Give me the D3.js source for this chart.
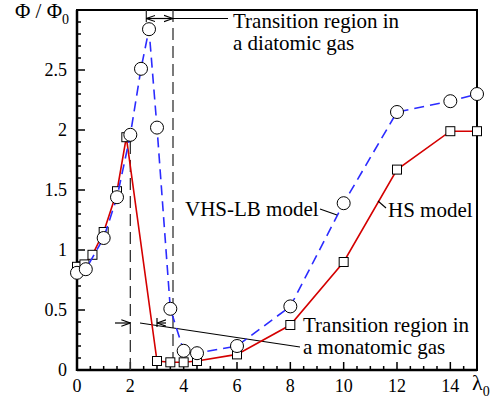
<!DOCTYPE html>
<html>
<head>
<meta charset="utf-8">
<script src="https://cdn.jsdelivr.net/npm/d3@7"></script>
</head>
<body style="margin:0">
<svg id="fig" width="494" height="402"></svg>
<script>
// HS model (squares, red solid)
var hsX = [0, 0.28, 0.58, 1, 1.5, 1.85, 3, 3.5, 4, 4.5, 6, 8, 10, 12, 14, 15];
var hsY = [0.86, 0.88, 0.96, 1.15, 1.49, 1.94, 0.075, 0.064, 0.064, 0.075, 0.13, 0.375, 0.9, 1.67, 1.99, 1.99];
// VHS-LB model (circles, blue dashed)
var vhsX = [0, 0.33, 1, 1.5, 2, 2.4, 2.7, 3, 3.5, 4, 4.5, 6, 8, 10, 12, 14, 15];
var vhsY = [0.81, 0.84, 1.1, 1.44, 1.96, 2.51, 2.84, 2.02, 0.51, 0.16, 0.14, 0.2, 0.53, 1.39, 2.15, 2.24, 2.3];
var xTicks = [0, 2, 4, 6, 8, 10, 12, 14];
var yTicks = [0, 0.5, 1, 1.5, 2, 2.5];

var FONT = "'Liberation Serif', Tinos, 'Times New Roman', serif";
var svg = d3.select("#fig");
var pl = 77, pr = 477, pt = 10, pb = 370;
var x = d3.scaleLinear().domain([0, 15]).range([pl, pr]);
var y = d3.scaleLinear().domain([0, 3]).range([pb, pt]);

// minor / major ticks, pointing inward
var g = svg.append("g");
d3.range(0, 15.01, 0.5).forEach(function(v) {
  var major = Math.abs(v % 2) < 1e-6;
  g.append("line").attr("x1", x(v)).attr("x2", x(v))
    .attr("y1", pb).attr("y2", pb - (major ? 8 : 4))
    .attr("stroke", "#000").attr("stroke-width", 1.5);
});
d3.range(0, 30.01, 1).forEach(function(i) {
  var v = i / 10;
  var major = i % 5 == 0;
  g.append("line").attr("x1", pl).attr("x2", pl + (major ? 8 : 4))
    .attr("y1", y(v)).attr("y2", y(v))
    .attr("stroke", "#000").attr("stroke-width", 1.5);
});

svg.selectAll(".xl").data(xTicks).enter().append("text")
  .attr("x", function(d) { return x(d); }).attr("y", 392)
  .attr("text-anchor", "middle").attr("font-size", 18)
  .text(function(d) { return d; });
svg.selectAll(".yl").data(yTicks).enter().append("text")
  .attr("x", 67).attr("y", function(d) { return y(d) + 6; })
  .attr("text-anchor", "end").attr("font-size", 18)
  .text(function(d) { return d; });

// frame
svg.append("rect").attr("x", pl).attr("y", pt)
  .attr("width", pr - pl).attr("height", pb - pt)
  .attr("fill", "none").attr("stroke", "#000").attr("stroke-width", 2);
svg.append("line").attr("x1", pl).attr("x2", pl).attr("y1", pt).attr("y2", pb + 1)
  .attr("stroke", "#000").attr("stroke-width", 2.5);
svg.append("line").attr("x1", pl).attr("x2", pr).attr("y1", pb).attr("y2", pb)
  .attr("stroke", "#000").attr("stroke-width", 2.5);

// axis titles
var yt = svg.append("text").attr("x", 15).attr("y", 18).attr("font-size", 21);
yt.append("tspan").text("Φ / Φ");
yt.append("tspan").attr("font-size", 14).attr("dy", 6).text("0");
var xt = svg.append("text").attr("x", 472).attr("y", 390).attr("font-size", 22);
xt.append("tspan").text("λ");
xt.append("tspan").attr("font-size", 14).attr("dy", 6).text("0");

// dashed guide lines
var dash = "12,6";
function vline(xv, y0, y1) {
  svg.append("line").attr("x1", x(xv)).attr("x2", x(xv))
    .attr("y1", y(y0)).attr("y2", y(y1))
    .attr("stroke", "#333").attr("stroke-width", 1.3).attr("stroke-dasharray", dash);
}
vline(2, 1.9, 0);
vline(3.6, 3, 0);
vline(2.6, 3, 2.9);

// arrow markers
var defs = svg.append("defs");
defs.append("marker").attr("id", "ah").attr("viewBox", "0 0 10 10")
  .attr("refX", 10).attr("refY", 5).attr("markerWidth", 9).attr("markerHeight", 9)
  .attr("markerUnits", "userSpaceOnUse").attr("orient", "auto-start-reverse")
  .append("path").attr("d", "M0,1.5 L10,5 L0,8.5").attr("fill", "none")
  .attr("stroke", "#000").attr("stroke-width", 1.2);

// top: diatomic transition arrow
svg.append("line").attr("x1", x(2.6)).attr("x2", x(3.6)).attr("y1", 18.5).attr("y2", 18.5)
  .attr("stroke", "#000").attr("stroke-width", 1.2)
  .attr("marker-start", "url(#ah)").attr("marker-end", "url(#ah)");
svg.append("line").attr("x1", x(3.6)).attr("x2", 228).attr("y1", 18.5).attr("y2", 18.5)
  .attr("stroke", "#000").attr("stroke-width", 1.2);

// bottom: monatomic transition arrows
var ya = 323;
svg.append("line").attr("x1", 115).attr("x2", x(2)).attr("y1", ya).attr("y2", ya)
  .attr("stroke", "#000").attr("stroke-width", 1.2).attr("marker-end", "url(#ah)");
svg.append("line").attr("x1", 166).attr("x2", x(3)).attr("y1", ya).attr("y2", ya)
  .attr("stroke", "#000").attr("stroke-width", 1.2).attr("marker-end", "url(#ah)");
svg.append("line").attr("x1", x(3)).attr("x2", x(3)).attr("y1", ya - 5).attr("y2", ya + 4)
  .attr("stroke", "#000").attr("stroke-width", 1.2);
svg.append("line").attr("x1", 140).attr("x2", 300).attr("y1", ya).attr("y2", 347)
  .attr("stroke", "#000").attr("stroke-width", 1.1);

// series
var hs = hsX.map(function(d, i) { return [d, hsY[i]]; });
var vhs = vhsX.map(function(d, i) { return [d, vhsY[i]]; });
var line = d3.line().x(function(d) { return x(d[0]); }).y(function(d) { return y(d[1]); });

svg.append("path").datum(hs).attr("d", line).attr("fill", "none")
  .attr("stroke", "#d40000").attr("stroke-width", 1.6);
svg.selectAll(".sq").data(hs).enter().append("rect")
  .attr("x", function(d) { return x(d[0]) - 4.5; }).attr("y", function(d) { return y(d[1]) - 4.5; })
  .attr("width", 9).attr("height", 9)
  .attr("fill", "#fff").attr("stroke", "#000").attr("stroke-width", 1);

svg.append("path").datum(vhs).attr("d", line).attr("fill", "none")
  .attr("stroke", "#2b2bff").attr("stroke-width", 1.6).attr("stroke-dasharray", "10,6");
svg.selectAll(".ci").data(vhs).enter().append("circle")
  .attr("cx", function(d) { return x(d[0]); }).attr("cy", function(d) { return y(d[1]); })
  .attr("r", 6.5)
  .attr("fill", "#fff").attr("stroke", "#000").attr("stroke-width", 1);

// annotations
function label(tx, ty, s) {
  svg.append("text").attr("x", tx).attr("y", ty).attr("font-size", 21).text(s);
}
label(233, 28, "Transition region in");
label(233, 50, "a diatomic gas");
label(303, 332, "Transition region in");
label(303, 354, "a monatomic gas");
label(185, 216, "VHS-LB model");
label(388, 217, "HS model");
svg.append("line").attr("x1", 320).attr("x2", 337).attr("y1", 209).attr("y2", 215)
  .attr("stroke", "#000").attr("stroke-width", 1.1);
svg.append("line").attr("x1", 386).attr("x2", 378).attr("y1", 208).attr("y2", 201)
  .attr("stroke", "#000").attr("stroke-width", 1.1);

// serif face on every text, set again once fonts are ready
function setFont() { svg.selectAll("text").style("font-family", FONT); }
setFont();
if (document.fonts && document.fonts.ready) document.fonts.ready.then(setFont);
</script>
</body>
</html>
